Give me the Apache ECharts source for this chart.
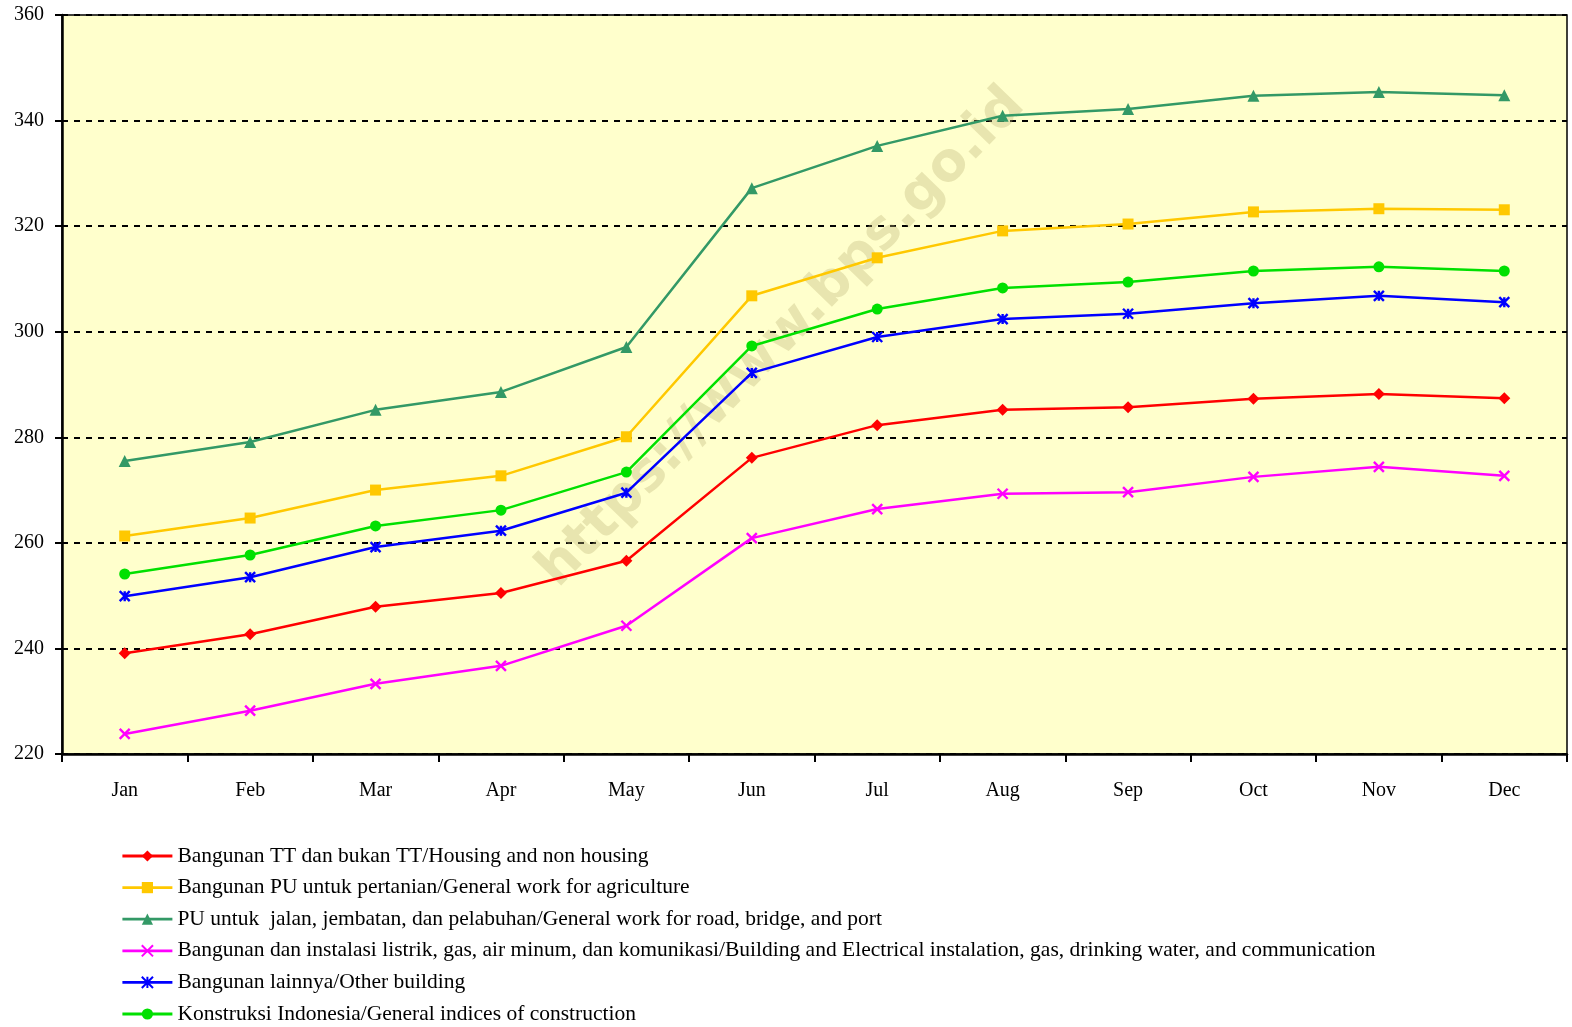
<!DOCTYPE html>
<html>
<head>
<meta charset="utf-8">
<script src="https://cdn.jsdelivr.net/npm/echarts@6/dist/echarts.min.js"></script>
<style>
html,body{margin:0;padding:0;background:#fff;}
#chart{width:1572px;height:1027px;}
</style>
</head>
<body>
<div id="chart"></div>
<script>
const months = ['Jan','Feb','Mar','Apr','May','Jun','Jul','Aug','Sep','Oct','Nov','Dec'];
const housing = [239.1,242.7,247.9,250.5,256.6,276.1,282.3,285.2,285.7,287.3,288.2,287.4];
const agriculture = [261.3,264.7,270.0,272.7,280.1,306.8,314.0,319.1,320.4,322.7,323.3,323.1];
const roadBridgePort = [275.5,279.1,285.2,288.6,297.1,327.2,335.2,340.9,342.2,344.7,345.4,344.8];
const electrical = [223.8,228.2,233.3,236.7,244.3,260.9,266.4,269.3,269.6,272.5,274.4,272.7];
const otherBuilding = [249.9,253.5,259.2,262.3,269.5,292.2,299.0,302.4,303.4,305.4,306.8,305.6];
const generalIndex = [254.1,257.7,263.2,266.2,273.4,297.3,304.3,308.3,309.4,311.5,312.3,311.5];

const seriesNames = [
  'Bangunan TT dan bukan TT/Housing and non housing',
  'Bangunan PU untuk pertanian/General work for agriculture',
  'PU untuk  jalan, jembatan, dan pelabuhan/General work for road, bridge, and port',
  'Bangunan dan instalasi listrik, gas, air minum, dan komunikasi/Building and Electrical instalation, gas, drinking water, and communication',
  'Bangunan lainnya/Other building',
  'Konstruksi Indonesia/General indices of construction'
];
const seriesData = [housing, agriculture, roadBridgePort, electrical, otherBuilding, generalIndex];
const colors = ['#FF0000','#FFC800','#339966','#FF00FF','#0000FF','#00E000'];
const symbols = ['diamond','rect','triangle',
  'path://M0,0L10,10M10,0L0,10',
  'path://M0,0L10,10M10,0L0,10M5,0L5,10',
  'circle'];
const sizes = [12,11,12,10,10,11];
const strokeSym = [false,false,false,true,true,false];

const FONT = '"Liberation Serif","Times New Roman",serif';

const chart = echarts.init(document.getElementById('chart'));
chart.setOption({
  animation:false,
  backgroundColor:'#ffffff',
  grid:{left:62,right:5,top:15,bottom:273,show:true,backgroundColor:'#FFFFCC',borderColor:'#000',borderWidth:1.5},
  graphic:[{
    type:'text', x:782, y:338, rotation:0.80, z:1,
    style:{text:'https://www.bps.go.id', x:0, y:0, textAlign:'center', textVerticalAlign:'middle',
      font:'bold 54px "DejaVu Sans", sans-serif', fill:'rgba(190,180,120,0.35)'}
  }],
  legend:{
    orient:'vertical', left:121, top:845, height:190, padding:0,
    itemWidth:50, itemHeight:14, itemGap:9.6,
    lineStyle:{width:2.8},
    textStyle:{fontFamily:FONT, fontSize:21.5, color:'#000', lineHeight:22},
    data:seriesNames
  },
  xAxis:{
    type:'category', data:months, boundaryGap:true,
    axisLine:{lineStyle:{color:'#000',width:2.5}},
    axisTick:{show:true,alignWithLabel:false,length:8,lineStyle:{color:'#000',width:2}},
    axisLabel:{fontFamily:FONT,fontSize:20,color:'#000',margin:27},
    splitLine:{show:false}
  },
  yAxis:{
    type:'value', min:220, max:360, interval:20,
    axisLine:{show:true,lineStyle:{color:'#000',width:2.5}},
    axisTick:{show:true,length:7,lineStyle:{color:'#000',width:2}},
    axisLabel:{fontFamily:FONT,fontSize:20,color:'#000',margin:18},
    splitLine:{show:true,lineStyle:{color:'#000',width:2,type:[6,6]}}
  },
  series: seriesNames.map((n,i)=>({
    name:n, type:'line', data:seriesData[i], z:3,
    symbol:symbols[i], symbolSize:sizes[i], showSymbol:true,
    lineStyle:{color:colors[i],width:2.5},
    itemStyle:{color:colors[i], borderColor:colors[i], borderWidth: strokeSym[i]?2.4:0},
    emphasis:{disabled:true}
  }))
});
</script>
</body>
</html>
